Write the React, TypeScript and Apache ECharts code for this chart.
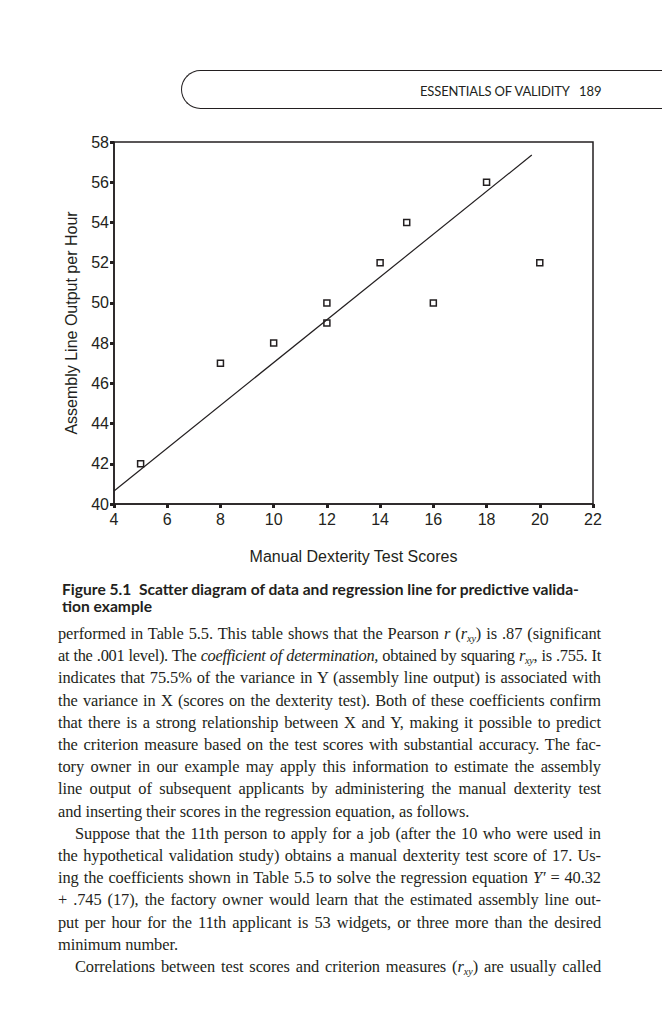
import React, { useEffect, useRef } from "react";
import * as echarts from "echarts";

// ---- Data ----
const dexterityScores = [5, 8, 10, 12, 12, 14, 15, 16, 18, 20];
const outputPerHour = [42, 47, 48, 49, 50, 52, 54, 50, 56, 52];
// regression line as drawn in the figure (end points)
const lineScores = [4, 19.7];
const lineOutput = [40.65, 57.35];
const xRange = [4, 22];
const yRange = [40, 58];
const tickStep = 2;

const xTitle = "Manual Dexterity Test Scores";
const yTitle = "Assembly Line Output per Hour";

const INK = "#231f20";
const SANS = "'Liberation Sans', Arial, sans-serif";

const Sub = () => (
  <span>
    <i>r</i>
    <sub style={{ fontSize: "0.62em", verticalAlign: "-0.3em", lineHeight: 0 }}>
      <i>xy</i>
    </sub>
  </span>
);

type Line = { content: React.ReactNode; justify: boolean; indent?: boolean; tight?: boolean };

const bodyLines: Line[] = [
  { content: <>performed in Table 5.5. This table shows that the Pearson <i>r</i> (<Sub />) is .87 (significant</>, justify: true },
  { content: <>at the .001 level). The <i>coefficient of determination,</i> obtained by squaring <Sub />, is .755. It</>, justify: true, tight: true },
  { content: <>indicates that 75.5% of the variance in Y (assembly line output) is associated with</>, justify: true },
  { content: <>the variance in X (scores on the dexterity test). Both of these coefficients confirm</>, justify: true },
  { content: <>that there is a strong relationship between X and Y, making it possible to predict</>, justify: true },
  { content: <>the criterion measure based on the test scores with substantial accuracy. The fac-</>, justify: true },
  { content: <>tory owner in our example may apply this information to estimate the assembly</>, justify: true },
  { content: <>line output of subsequent applicants by administering the manual dexterity test</>, justify: true },
  { content: <>and inserting their scores in the regression equation, as follows.</>, justify: false },
  { content: <>Suppose that the 11th person to apply for a job (after the 10 who were used in</>, justify: true, indent: true },
  { content: <>the hypothetical validation study) obtains a manual dexterity test score of 17. Us-</>, justify: true },
  { content: <>ing the coefficients shown in Table 5.5 to solve the regression equation <i>Y′</i> = 40.32</>, justify: true },
  { content: <>+ .745 (17), the factory owner would learn that the estimated assembly line out-</>, justify: true },
  { content: <>put per hour for the 11th applicant is 53 widgets, or three more than the desired</>, justify: true },
  { content: <>minimum number.</>, justify: false },
  { content: <>Correlations between test scores and criterion measures (<Sub />) are usually called</>, justify: true, indent: true },
];

export default function App() {
  const ref = useRef<HTMLDivElement>(null);

  useEffect(() => {
    document.body.style.margin = "0";
    if (!ref.current) return;
    const chart = echarts.init(ref.current, undefined, { renderer: "svg" });
    const axisCommon = {
      type: "value" as const,
      interval: tickStep,
      nameLocation: "middle" as const,
      nameTextStyle: { fontFamily: SANS, fontSize: 16, color: INK },
      axisLine: { show: true, lineStyle: { color: INK, width: 1.5 } },
      axisTick: { show: true, length: 4, lineStyle: { color: INK, width: 3 } },
      axisLabel: { fontFamily: SANS, fontSize: 16, color: INK },
      splitLine: { show: false },
    };
    chart.setOption({
      animation: false,
      grid: {
        left: 114,
        top: 142,
        width: 479,
        height: 362,
        show: true,
        borderColor: INK,
        borderWidth: 1.5,
        backgroundColor: "transparent",
      },
      xAxis: {
        ...axisCommon,
        min: xRange[0],
        max: xRange[1],
        name: xTitle,
        nameGap: 44,
        axisLabel: { ...axisCommon.axisLabel, margin: 7 },
      },
      yAxis: {
        ...axisCommon,
        min: yRange[0],
        max: yRange[1],
        name: yTitle,
        nameGap: 35,
        axisLabel: { ...axisCommon.axisLabel, margin: 5 },
      },
      series: [
        {
          type: "line",
          data: lineScores.map((x, i) => [x, lineOutput[i]]),
          symbol: "none",
          lineStyle: { color: INK, width: 1.2 },
        },
        {
          type: "scatter",
          data: dexterityScores.map((x, i) => [x, outputPerHour[i]]),
          symbol: "rect",
          symbolSize: 6,
          itemStyle: { color: "#ffffff", borderColor: INK, borderWidth: 1.5, opacity: 1 },
        },
      ],
    });
    return () => chart.dispose();
  }, []);

  const lineH = 22.2;
  const firstTop = 623;

  return (
    <div
      style={{
        position: "absolute",
        left: 0,
        top: 0,
        width: 662,
        height: 1024,
        background: "#ffffff",
        overflow: "hidden",
        color: INK,
      }}
    >
      {/* running head */}
      <div
        style={{
          position: "absolute",
          left: 181,
          top: 70,
          width: 520,
          height: 37,
          border: `1.3px solid ${INK}`,
          borderRight: "none",
          borderRadius: "20px 0 0 20px",
        }}
      />
      <div
        style={{
          position: "absolute",
          left: 420,
          top: 83,
          fontFamily: "Lato, 'Open Sans', sans-serif",
          fontSize: 13,
          lineHeight: "16px",
          whiteSpace: "nowrap",
          letterSpacing: "-0.15px",
        }}
      >
        ESSENTIALS OF VALIDITY
      </div>
      <div
        style={{
          position: "absolute",
          left: 579,
          top: 83,
          fontFamily: "Lato, 'Open Sans', sans-serif",
          fontSize: 13,
          lineHeight: "16px",
        }}
      >
        189
      </div>

      <div ref={ref} style={{ position: "absolute", left: 0, top: 0, width: 662, height: 580 }} />

      {/* caption */}
      <div
        style={{
          position: "absolute",
          left: 62,
          top: 581,
          fontFamily: "Lato, 'Open Sans', sans-serif",
          fontWeight: 700,
          fontSize: 15.6,
          lineHeight: "17px",
          whiteSpace: "nowrap",
        }}
      >
        <div>Figure 5.1&nbsp;&nbsp;Scatter diagram of data and regression line for predictive valida-</div>
        <div>tion example</div>
      </div>

      {/* body text */}
      {bodyLines.map((ln, i) => (
        <div
          key={i}
          style={{
            position: "absolute",
            left: ln.indent ? 75 : 58,
            top: firstTop + i * lineH,
            width: ln.indent ? 526 : 543,
            height: lineH,
            lineHeight: `${lineH}px`,
            fontFamily: "'Liberation Serif', 'Times New Roman', serif",
            fontSize: 16.4,
            letterSpacing: ln.tight ? "-0.3px" : "-0.08px",
            textAlign: ln.justify ? "justify" : "left",
            textAlignLast: ln.justify ? "justify" : "left",
            whiteSpace: "nowrap",
          }}
        >
          {ln.content}
        </div>
      ))}
    </div>
  );
}
